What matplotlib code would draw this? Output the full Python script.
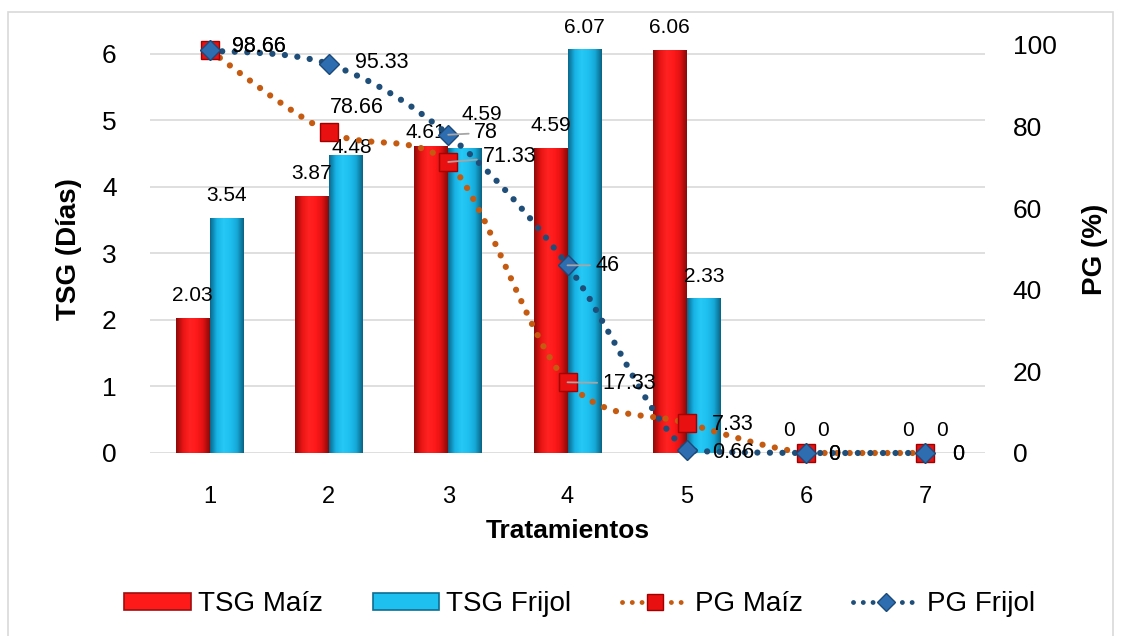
import numpy as np
import matplotlib
matplotlib.use("Agg")
import matplotlib.pyplot as plt
from matplotlib.path import Path
from matplotlib.patches import PathPatch, Patch, Rectangle
from matplotlib.lines import Line2D
from matplotlib.colors import LinearSegmentedColormap

plt.rcParams['font.family'] = ['Liberation Sans', 'DejaVu Sans']

# data
tratamientos = ['1', '2', '3', '4', '5', '6', '7']
tsg_maiz = [2.03, 3.87, 4.61, 4.59, 6.06, 0, 0]
tsg_frijol = [3.54, 4.48, 4.59, 6.07, 2.33, 0, 0]
pg_maiz = [98.66, 78.66, 71.33, 17.33, 7.33, 0, 0]
pg_frijol = [98.66, 95.33, 78, 46, 0.66, 0, 0]

# label offsets (pixels, from the point) -- layout only
bar_off_maiz = {2: (-5, 14)}
bar_off_frijol = {1: (6, 8), 2: (17, 33)}
pg_off_maiz = [(49, 4), (28, 25), (61, 5), (62, -1), (46, -1), (28, -2), (33, -2)]
pg_off_frijol = [(49, 4), (53, 2), (38, 2), (40, 0), (46, -2), (28, -2), (33, -2)]
leader_maiz = [2, 3]
leader_frijol = [2, 3]

red_cmap = LinearSegmentedColormap.from_list(
    'r', ['#8E0B0B', '#E81414', '#FF2222', '#FF1A1A', '#E31212', '#8A0A0A'])
blue_cmap = LinearSegmentedColormap.from_list(
    'b', ['#0B6A8E', '#17B4E6', '#26C8F5', '#1EC0F0', '#16A9D8', '#0A6485'])
orange = '#C55A11'
navy = '#1F4E79'


def smooth_path(xs, ys):
    # bezier through the points (like Excel's smoothed line), no overshoot
    pts = np.column_stack([xs, ys]).astype(float)
    ext = np.vstack([pts[0], pts, pts[-1]])
    verts = [pts[0]]
    codes = [Path.MOVETO]
    for i in range(len(pts) - 1):
        p0, p1, p2, p3 = ext[i], ext[i + 1], ext[i + 2], ext[i + 3]
        c1 = p1 + (p2 - p0) / 6
        c2 = p2 - (p3 - p1) / 6
        lo, hi = min(p1[1], p2[1]), max(p1[1], p2[1])
        c1[1] = np.clip(c1[1], lo, hi)
        c2[1] = np.clip(c2[1], lo, hi)
        verts += [c1, c2, p2]
        codes += [Path.CURVE4] * 3
    return Path(verts, codes)


fig = plt.figure(figsize=(11.21, 6.36), dpi=100)
fig.patches.append(Rectangle((8 / 1121, -0.05), 1105 / 1121, 1 - 12 / 636 + 0.05,
                             transform=fig.transFigure, fill=False,
                             edgecolor='#D9D9D9', lw=1.2))
ax = fig.add_axes([150 / 1121, 1 - 453 / 636, 835 / 1121, 408 / 636])
ax2 = ax.twinx()

x = np.arange(len(tratamientos))
w = 0.285
bars_m = ax.bar(x - w / 2, tsg_maiz, w, color='#FF1A1A', edgecolor='none', zorder=2)
bars_f = ax.bar(x + w / 2, tsg_frijol, w, color='#1EC0F0', edgecolor='none', zorder=2)

grad = np.linspace(0, 1, 64).reshape(1, -1)
for bars, cmap in [(bars_m, red_cmap), (bars_f, blue_cmap)]:
    for b in bars:
        h = b.get_height()
        if h <= 0:
            continue
        x0 = b.get_x()
        im = ax.imshow(grad, cmap=cmap, aspect='auto', zorder=3,
                       extent=[x0, x0 + b.get_width(), 0, h])
        im.set_clip_path(b)

ax.set_xlim(-0.5, 6.5)
ax.set_ylim(0, 6.135)
ax.set_yticks(range(7))
ax.set_xticks(x)
ax.set_xticklabels(tratamientos)
ax.grid(axis='y', color='#D9D9D9', lw=1.2, zorder=0)
ax.set_axisbelow(True)
for a in (ax, ax2):
    for s in a.spines.values():
        s.set_visible(False)
ax.tick_params(axis='y', length=0, labelsize=19, pad=24)
ax.tick_params(axis='x', length=0, labelsize=17, pad=24)
ax.set_ylabel('TSG (Días)', fontsize=20, fontweight='bold', labelpad=14)
ax.set_xlabel('Tratamientos', fontsize=19, fontweight='bold', labelpad=8)

for vals, bars, offs in [(tsg_maiz, bars_m, bar_off_maiz), (tsg_frijol, bars_f, bar_off_frijol)]:
    for i, (v, b) in enumerate(zip(vals, bars)):
        dx, dy = offs.get(i, (0, 22))
        ax.annotate(f'{v:g}', (b.get_x() + b.get_width() / 2, v), xytext=(dx, dy),
                    textcoords='offset pixels', ha='center', va='center',
                    fontsize=15, zorder=5)

ax2.set_ylim(0, 100)
ax2.set_yticks(range(0, 101, 20))
ax2.tick_params(axis='y', length=0, labelsize=19, pad=20)
ax2.set_ylabel('PG (%)', fontsize=20, fontweight='bold', labelpad=18)

dot = (0, (0.01, 2.0))
for vals, col in [(pg_maiz, orange), (pg_frijol, navy)]:
    ax2.add_patch(PathPatch(smooth_path(x, vals), fill=False, edgecolor=col, lw=4.5,
                            linestyle=dot, capstyle='round', zorder=3, clip_on=False))
ax2.plot(x, pg_maiz, ls='none', marker='s', ms=13, mfc='#E81010', mec='#A00000',
         mew=1, zorder=4, clip_on=False)
ax2.plot(x, pg_frijol, ls='none', marker='D', ms=10, mfc='#2E6DB0', mec='#1B4A7A',
         mew=1, zorder=5, clip_on=False)

for vals, offs, leaders in [(pg_maiz, pg_off_maiz, leader_maiz),
                            (pg_frijol, pg_off_frijol, leader_frijol)]:
    for i, v in enumerate(vals):
        dx, dy = offs[i]
        arrow = None
        if i in leaders:
            arrow = dict(arrowstyle='-', color='#A6A6A6', lw=1.3, shrinkA=2, shrinkB=0)
        ax2.annotate(f'{v:g}', (x[i], v), xytext=(dx, dy), textcoords='offset pixels',
                     ha='center', va='center', fontsize=15.5, zorder=6,
                     arrowprops=arrow)

handles = [
    Patch(facecolor='#FF1A1A', edgecolor='#9E0E0E', lw=1.2, label='TSG Maíz'),
    Patch(facecolor='#1EC0F0', edgecolor='#0C6E92', lw=1.2, label='TSG Frijol'),
    Line2D([], [], color=orange, lw=3.5, ls=dot, dash_capstyle='round', marker='s',
           ms=11, mfc='#E81010', mec='#A00000', label='PG Maíz'),
    Line2D([], [], color=navy, lw=3.5, ls=dot, dash_capstyle='round', marker='D',
           ms=9, mfc='#2E6DB0', mec='#1B4A7A', label='PG Frijol'),
]
fig.legend(handles=handles, loc='center', bbox_to_anchor=(0.517, 0.05), ncol=4,
           frameon=False, fontsize=20, handlelength=2.4, handleheight=0.6,
           handletextpad=0.25, columnspacing=1.8)

fig.savefig('out.png', dpi=100)
